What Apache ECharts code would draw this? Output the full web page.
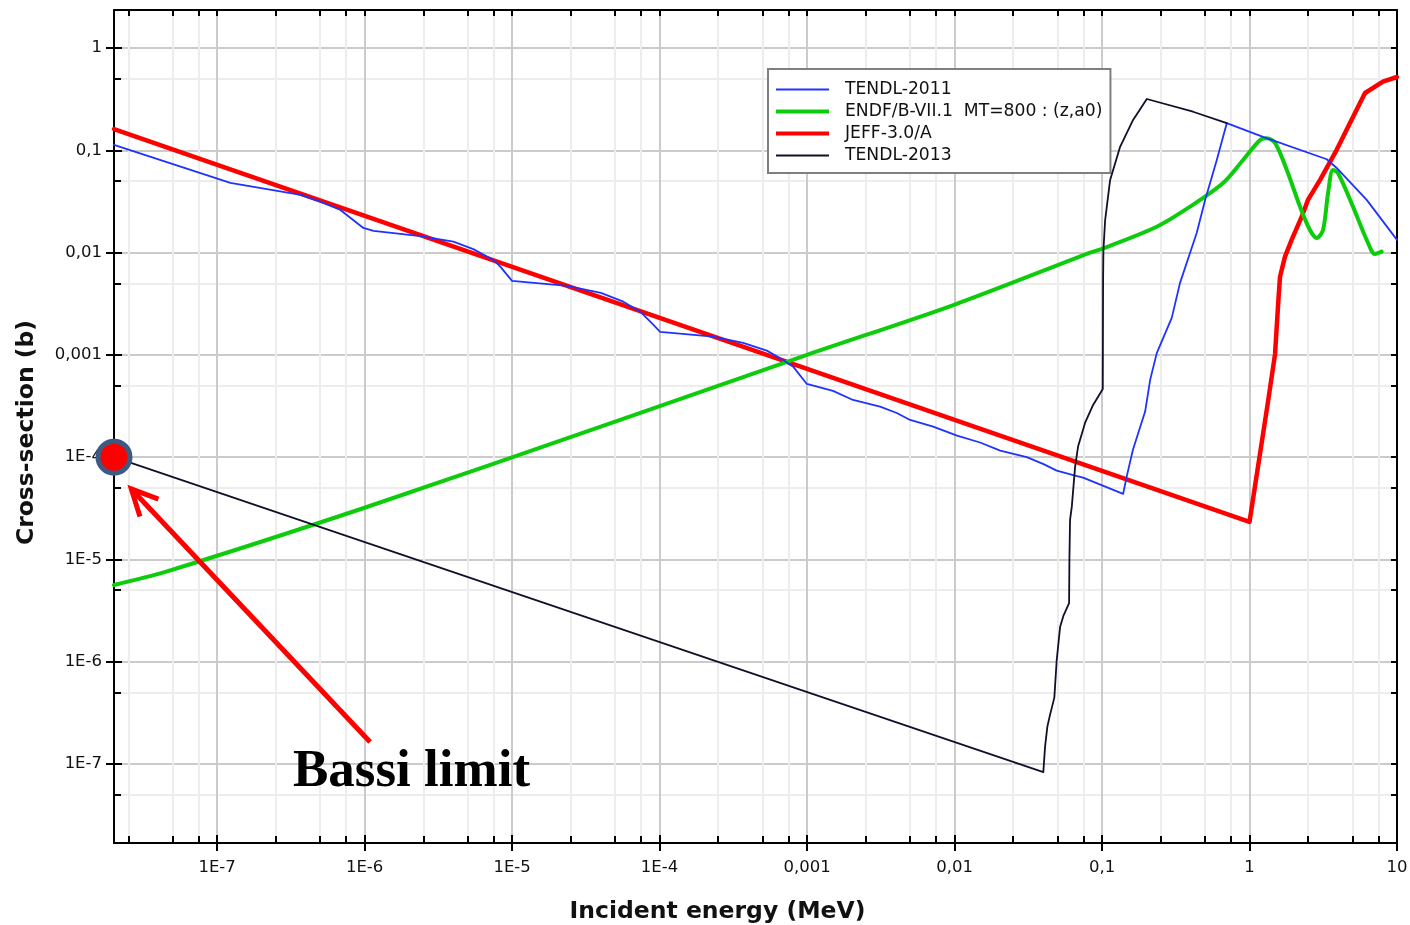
<!DOCTYPE html>
<html>
<head>
<meta charset="utf-8">
<script src="https://cdn.jsdelivr.net/npm/echarts@6/dist/echarts.min.js"></script>
<style>
  html, body { margin: 0; padding: 0; background: #ffffff; }
  #chart { width: 1410px; height: 925px; }
</style>
</head>
<body>
<div id="chart"></div>
<script>
// Cross-section data, [incident energy (MeV), cross-section (b)]
const tendl2011 = [
  [2e-8, 0.113], [1.23e-7, 0.0479], [3.69e-7, 0.0366], [5.01e-7, 0.0315], [6.86e-7, 0.0261],
  [9.81e-7, 0.0174], [1.15e-6, 0.0163], [2.39e-6, 0.0145], [4.0e-6, 0.0128], [5.46e-6, 0.0108],
  [7.47e-6, 0.00847], [8.32e-6, 0.00728], [1.0e-5, 0.00528], [2.36e-5, 0.00472], [4.0e-5, 0.00403],
  [5.68e-5, 0.00331], [7.4e-5, 0.00264], [8.65e-5, 0.00211], [1.01e-4, 0.00168], [2.31e-4, 0.00151],
  [3.69e-4, 0.00131], [5.34e-4, 0.0011], [6.89e-4, 8.91e-4], [8.05e-4, 7.66e-4], [9.97e-4, 5.19e-4],
  [1.5e-3, 4.44e-4], [2.05e-3, 3.62e-4], [3.13e-3, 3.12e-4], [4.06e-3, 2.7e-4], [5.0e-3, 2.31e-4],
  [7.16e-3, 1.99e-4], [1.04e-2, 1.62e-4], [1.49e-2, 1.39e-4], [2.04e-2, 1.16e-4], [3.09e-2, 1.0e-4],
  [3.98e-2, 8.59e-5], [4.93e-2, 7.38e-5], [6.57e-2, 6.59e-5], [7.44e-2, 6.3e-5], [0.139, 4.37e-5],
  [0.147, 6.45e-5], [0.162, 1.18e-4], [0.196, 2.79e-4], [0.212, 5.69e-4], [0.235, 1.04e-3],
  [0.297, 2.3e-3], [0.338, 5.05e-3], [0.395, 9.9e-3], [0.439, 0.0156], [0.5, 0.0327],
  [0.6, 0.0804], [0.701, 0.184], [1.235, 0.135], [3.34, 0.0817], [3.9, 0.0671],
  [6.23, 0.0327], [10, 0.0133]
];
const endf = [
  [2e-8, 5.63e-6], [4.46e-8, 7.55e-6], [1e-6, 3.2e-5], [5.41e-5, 2.31e-4], [1e-3, 1e-3],
  [9.83e-3, 3.07e-3], [0.0831, 9.98e-3], [0.102, 0.011], [0.235, 0.0179], [0.395, 0.0281],
  [0.662, 0.0479], [0.904, 0.0804], [1.18, 0.126], [1.31, 0.131], [1.49, 0.118],
  [1.79, 0.0642], [2.2, 0.0281], [2.57, 0.0166], [2.86, 0.0139], [3.15, 0.0166],
  [3.41, 0.0383], [3.68, 0.0642], [3.98, 0.06], [5.03, 0.0281], [6.23, 0.0133],
  [7.09, 0.00969], [7.87, 0.0102]
];
const jeff = [
  [2e-8, 0.161], [1, 2.33e-5], [1.34, 3.62e-4], [1.49, 1.02e-3], [1.57, 3.44e-3],
  [1.61, 5.81e-3], [1.74, 9.12e-3], [1.93, 0.0133], [2.26, 0.0224], [2.49, 0.0327],
  [3.01, 0.0513], [3.9, 0.101], [4.8, 0.185], [6.07, 0.363], [8.03, 0.469], [10, 0.52]
];
const tendl2013 = [
  [2e-8, 1.0e-4], [0.04, 8.32e-8], [0.0411, 1.48e-7], [0.0426, 2.32e-7], [0.0444, 3.02e-7],
  [0.0475, 4.46e-7], [0.0493, 1.04e-6], [0.052, 2.2e-6], [0.0547, 2.8e-6], [0.0598, 3.73e-6],
  [0.0601, 9.9e-6], [0.0607, 2.43e-5], [0.0624, 3.28e-5], [0.0657, 8.07e-5], [0.0688, 1.27e-4],
  [0.0767, 2.16e-4], [0.087, 3.24e-4], [0.1012, 4.64e-4], [0.1017, 5.4e-3], [0.1022, 0.0106],
  [0.105, 0.0208], [0.1135, 0.0513], [0.1326, 0.108], [0.1624, 0.198], [0.2012, 0.317],
  [0.414, 0.238], [0.701, 0.184]
];

// Bassi limit marker and its annotation arrow (tail, tip)
const bassiPoint = [2e-8, 1e-4];
const bassiArrow = [[1.09e-6, 1.64e-7], [2.62e-8, 4.89e-5]];
const bassiText = 'Bassi limit';

const seriesNames = ['TENDL-2011', 'ENDF/B-VII.1  MT=800 : (z,a0)', 'JEFF-3.0/A', 'TENDL-2013'];

// Axis ranges and tick labels
const xMin = 2e-8, xMax = 10;
const yMin = 1.69e-8, yMax = 2.35;
const xMajor = [1e-7, 1e-6, 1e-5, 1e-4, 1e-3, 1e-2, 1e-1, 1, 10];
const xMajorLabels = ['1E-7', '1E-6', '1E-5', '1E-4', '0,001', '0,01', '0,1', '1', '10'];
const yMajor = [1e-7, 1e-6, 1e-5, 1e-4, 1e-3, 1e-2, 1e-1, 1];
const yMajorLabels = ['1E-7', '1E-6', '1E-5', '1E-4', '0,001', '0,01', '0,1', '1'];
const xMinorSteps = [2.5, 5, 7.5];
const yMinorSteps = [5];

function minorValues(steps, lo, hi) {
  const out = [];
  for (let d = Math.floor(Math.log10(lo)); d <= Math.ceil(Math.log10(hi)); d++) {
    steps.forEach(s => {
      const v = s * Math.pow(10, d);
      if (v > lo && v < hi) out.push(v);
    });
  }
  return out;
}
const xMinor = minorValues(xMinorSteps, xMin, xMax);
const yMinor = minorValues(yMinorSteps, yMin, yMax);
const xAll = xMajor.concat(xMinor);
const yAll = yMajor.concat(yMinor);

function labelFrom(values, labels) {
  return v => {
    const i = values.findIndex(t => Math.abs(Math.log10(t) - Math.log10(v)) < 1e-6);
    return i < 0 ? '' : labels[i];
  };
}

const FONT = 'DejaVu Sans';
const black = '#000000';

function logAxis(min, max, position, extra) {
  return Object.assign({
    type: 'log', logBase: 10, min: min, max: max, position: position,
    axisLine: { show: false, onZero: false },
    axisTick: { show: false },
    axisLabel: { show: false },
    splitLine: { show: false },
    minorTick: { show: false },
    minorSplitLine: { show: false }
  }, extra);
}

const xAxes = [
  logAxis(xMin, xMax, 'bottom', {
    axisLine: { show: true, onZero: false, lineStyle: { color: black, width: 2 } },
    axisTick: { show: true, inside: false, length: 8, customValues: xMajor, lineStyle: { color: black, width: 2 } },
    axisLabel: { show: true, customValues: xMajor, formatter: labelFrom(xMajor, xMajorLabels),
      margin: 16, color: '#111', fontFamily: FONT, fontSize: 16.5 },
    splitLine: { show: true, lineStyle: { color: '#cbcbcb', width: 2 } },
    name: 'Incident energy (MeV)', nameLocation: 'middle', nameGap: 57,
    nameTextStyle: { fontFamily: FONT, fontWeight: 'bold', fontSize: 23.5, color: '#111', padding: [0, 76, 0, 0] }
  }),
  logAxis(xMin, xMax, 'bottom', {
    axisTick: { show: true, inside: true, length: 8, customValues: xMajor, lineStyle: { color: black, width: 2 } }
  }),
  logAxis(xMin, xMax, 'bottom', {
    axisTick: { show: true, inside: true, length: 7, customValues: xMinor, lineStyle: { color: black, width: 2 } },
    splitLine: { show: true, lineStyle: { color: '#ededed', width: 2 } }
  }),
  logAxis(xMin, xMax, 'top', {
    axisLine: { show: true, onZero: false, lineStyle: { color: black, width: 2 } },
    axisTick: { show: true, inside: true, length: 6, customValues: xAll, lineStyle: { color: black, width: 2 } }
  })
];

const yAxes = [
  logAxis(yMin, yMax, 'left', {
    axisLine: { show: true, onZero: false, lineStyle: { color: black, width: 2 } },
    axisTick: { show: true, inside: false, length: 8, customValues: yMajor, lineStyle: { color: black, width: 2 } },
    axisLabel: { show: true, customValues: yMajor, formatter: labelFrom(yMajor, yMajorLabels),
      margin: 12, color: '#111', fontFamily: FONT, fontSize: 16.5 },
    splitLine: { show: true, lineStyle: { color: '#cbcbcb', width: 2 } },
    name: 'Cross-section (b)', nameLocation: 'middle', nameGap: 75, nameRotate: 90,
    nameTextStyle: { fontFamily: FONT, fontWeight: 'bold', fontSize: 23.5, color: '#111', padding: [0, 12, 0, 0] }
  }),
  logAxis(yMin, yMax, 'left', {
    axisTick: { show: true, inside: true, length: 8, customValues: yMajor, lineStyle: { color: black, width: 2 } }
  }),
  logAxis(yMin, yMax, 'left', {
    axisTick: { show: true, inside: true, length: 7, customValues: yMinor, lineStyle: { color: black, width: 2 } },
    splitLine: { show: true, lineStyle: { color: '#ededed', width: 2 } }
  }),
  logAxis(yMin, yMax, 'right', {
    axisLine: { show: true, onZero: false, lineStyle: { color: black, width: 2 } },
    axisTick: { show: true, inside: true, length: 6, customValues: yAll, lineStyle: { color: black, width: 2 } }
  })
];

function lineSeries(name, data, color, width, z, extra) {
  return Object.assign({
    name: name, type: 'line', data: data, xAxisIndex: 0, yAxisIndex: 0,
    symbol: 'none', showSymbol: false, z: z,
    lineStyle: { color: color, width: width, cap: 'round', join: 'round' },
    itemStyle: { color: color },
    emphasis: { disabled: true }
  }, extra || {});
}

const thinIcon = 'path://M0,0H53V1.8H0Z';
const thickIcon = 'path://M0,0H53V4H0Z';

const option = {
  animation: false,
  backgroundColor: '#ffffff',
  grid: { left: 114, right: 13, top: 10, bottom: 82, containLabel: false, outerBoundsMode: 'none' },
  xAxis: xAxes,
  yAxis: yAxes,
  legend: {
    left: 768, top: 69, orient: 'vertical',
    padding: [12, 8, 9, 8], itemGap: 5, itemWidth: 53, itemHeight: 14,
    backgroundColor: '#ffffff', borderColor: '#7f7f7f', borderWidth: 2, borderRadius: 0,
    itemStyle: { borderWidth: 0 },
    selectedMode: false,
    textStyle: { fontFamily: FONT, fontSize: 17.2, color: '#111', padding: [0, 0, 0, 11] },
    data: [
      { name: seriesNames[0], icon: thinIcon },
      { name: seriesNames[1], icon: thickIcon },
      { name: seriesNames[2], icon: thickIcon },
      { name: seriesNames[3], icon: thinIcon }
    ]
  },
  series: [
    lineSeries(seriesNames[2], jeff, '#ff0000', 4.5, 2),
    lineSeries(seriesNames[1], endf, '#0ccc0c', 4, 3, { smooth: 0.3 }),
    lineSeries(seriesNames[0], tendl2011, '#1f33ff', 1.8, 4),
    lineSeries(seriesNames[3], tendl2013, '#10102a', 1.8, 5),
    {
      name: 'Bassi', type: 'scatter', data: [bassiPoint], xAxisIndex: 0, yAxisIndex: 0,
      symbol: 'circle', symbolSize: 32, clip: false, z: 10,
      itemStyle: { color: '#ff0000', borderColor: '#3d5a82', borderWidth: 5, opacity: 1 },
      emphasis: { disabled: true }
    }
  ]
};

const chart = echarts.init(document.getElementById('chart'), null, { renderer: 'canvas' });
chart.setOption(option);

// Annotation arrow placed through the chart's own coordinate conversion
const tail = chart.convertToPixel({ seriesIndex: 0 }, bassiArrow[0]);
const tip = chart.convertToPixel({ seriesIndex: 0 }, bassiArrow[1]);
const dx = tail[0] - tip[0], dy = tail[1] - tip[1];
const len = Math.sqrt(dx * dx + dy * dy);
const ux = dx / len, uy = dy / len;
const wing = 29, ang = 26 * Math.PI / 180;
function rot(x, y, a) { return [x * Math.cos(a) - y * Math.sin(a), x * Math.sin(a) + y * Math.cos(a)]; }
const w1 = rot(ux, uy, ang), w2 = rot(ux, uy, -ang);
const arrowStyle = { stroke: '#ff0000', lineWidth: 5, fill: null, lineCap: 'butt', lineJoin: 'miter' };

chart.setOption({
  graphic: [
    { type: 'polyline', z: 20, silent: true, shape: { points: [tail, tip] }, style: arrowStyle },
    { type: 'polyline', z: 20, silent: true,
      shape: { points: [[tip[0] + w1[0] * wing, tip[1] + w1[1] * wing], tip, [tip[0] + w2[0] * wing, tip[1] + w2[1] * wing]] },
      style: arrowStyle },
    { type: 'text', z: 20, silent: true, x: 293, y: 772,
      style: { text: bassiText, font: 'bold 53px "Liberation Serif", "Times New Roman", serif', fill: '#000000',
        align: 'left', verticalAlign: 'middle' } }
  ]
});
</script>
</body>
</html>
